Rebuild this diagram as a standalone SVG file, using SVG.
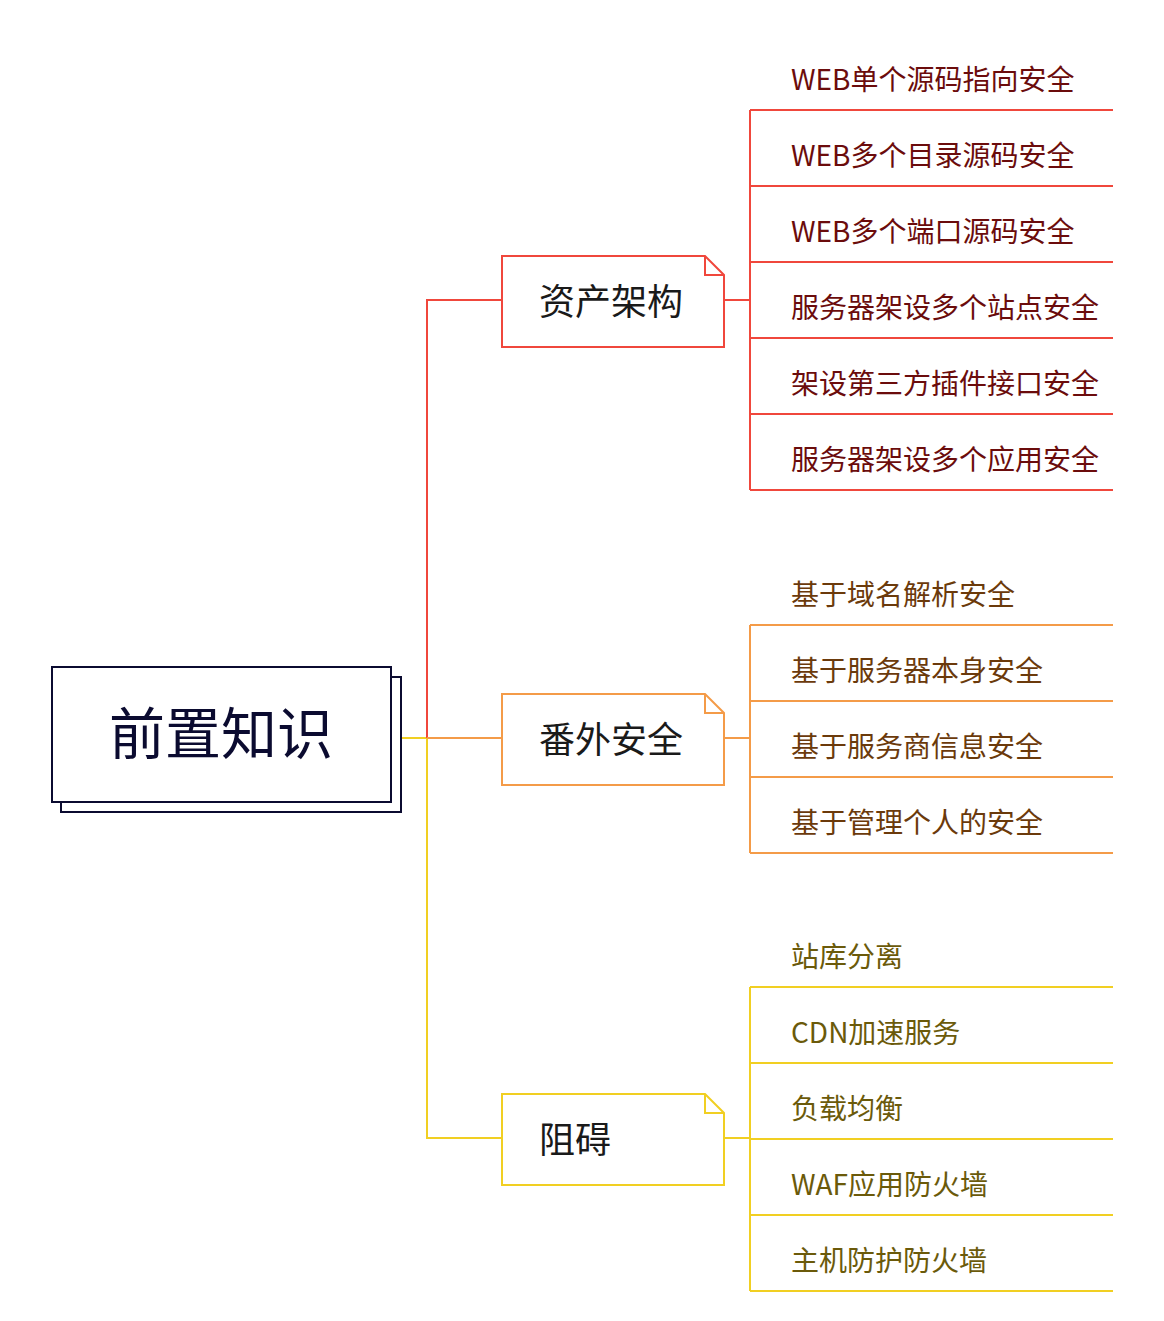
<svg xmlns="http://www.w3.org/2000/svg" width="1164" height="1321" viewBox="0 0 1164 1321">
<style>
text{font-family:"Noto Sans CJK SC","Noto Sans",sans-serif}
.root{font-size:56px;fill:#0b0b30}
.br{font-size:36px;fill:#1a1a1a}
.leaf{font-size:28px}
.r{stroke:#f0473c}
.o{stroke:#f49b48}
.y{stroke:#f1cf22}
.ln{fill:none;stroke-width:2}
.node{fill:#fff;stroke-width:2}
.tr{fill:#6b0c0c}
.to{fill:#6b3a0b}
.ty{fill:#6b5a0a}
</style>
<rect width="1164" height="1321" fill="#fff"/>
<g id="connectors">
<path class="ln" stroke="#f1cf22" d="M401 738H427V1138H502"/>
<path class="ln r" d="M427 738V300H502"/>
<path class="ln o" d="M427 738H502"/>
<path class="ln r" d="M724 300H750M750 110V490M750 110H1113M750 186H1113M750 262H1113M750 338H1113M750 414H1113M750 490H1113"/>
<path class="ln o" d="M724 738H750M750 625V853M750 625H1113M750 701H1113M750 777H1113M750 853H1113"/>
<path class="ln y" d="M724 1138H750M750 987V1291M750 987H1113M750 1063H1113M750 1139H1113M750 1215H1113M750 1291H1113"/>
</g>
<g id="root">
<rect x="61" y="677" width="340" height="135" fill="#fff" stroke="#0b0b30" stroke-width="2"/>
<rect x="52" y="667" width="339" height="135" fill="#fff" stroke="#0b0b30" stroke-width="2"/>
<text class="root" x="221" y="754" text-anchor="middle">前置知识</text>
</g>
<g id="n-assets">
<path class="node r" d="M502 256H705L724 275V347H502Z"/>
<path class="ln r" d="M705 256V275H724"/>
<text class="br" x="539" y="315">资产架构</text>
</g>
<g id="n-extra">
<path class="node o" d="M502 694H705L724 713V785H502Z"/>
<path class="ln o" d="M705 694V713H724"/>
<text class="br" x="539" y="753">番外安全</text>
</g>
<g id="n-block">
<path class="node y" d="M502 1094H705L724 1113V1185H502Z"/>
<path class="ln y" d="M705 1094V1113H724"/>
<text class="br" x="539" y="1153">阻碍</text>
</g>
<g id="leaves-assets" class="leaf tr">
<text x="791" y="90">WEB单个源码指向安全</text>
<text x="791" y="166">WEB多个目录源码安全</text>
<text x="791" y="242">WEB多个端口源码安全</text>
<text x="791" y="318">服务器架设多个站点安全</text>
<text x="791" y="394">架设第三方插件接口安全</text>
<text x="791" y="470">服务器架设多个应用安全</text>
</g>
<g id="leaves-extra" class="leaf to">
<text x="791" y="605">基于域名解析安全</text>
<text x="791" y="681">基于服务器本身安全</text>
<text x="791" y="757">基于服务商信息安全</text>
<text x="791" y="833">基于管理个人的安全</text>
</g>
<g id="leaves-block" class="leaf ty">
<text x="791" y="967">站库分离</text>
<text x="791" y="1043">CDN加速服务</text>
<text x="791" y="1119">负载均衡</text>
<text x="791" y="1195">WAF应用防火墙</text>
<text x="791" y="1271">主机防护防火墙</text>
</g>
</svg>
